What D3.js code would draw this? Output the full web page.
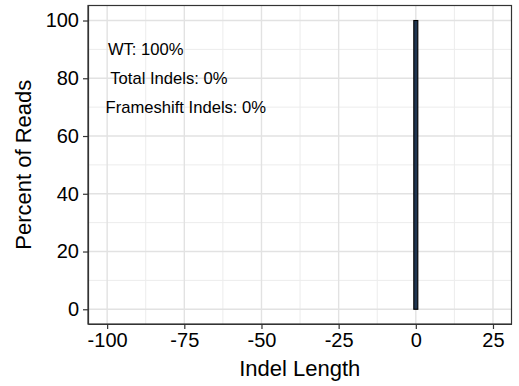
<!DOCTYPE html>
<html>
<head>
<meta charset="utf-8">
<script src="https://cdn.jsdelivr.net/npm/d3@7"></script>
<style>
  html, body { margin: 0; padding: 0; background: #ffffff; }
  svg { display: block; font-family: "Liberation Sans", Arial, Helvetica, sans-serif; }
</style>
</head>
<body>
<svg id="chart" width="519" height="386"></svg>
<script>
// ---- data ----
const indelLengths = [0];
const percentReads = [100];
const xTicks = [-100, -75, -50, -25, 0, 25];
const yTicks = [0, 20, 40, 60, 80, 100];
const xMinor = [-87.5, -62.5, -37.5, -12.5, 12.5];
const yMinor = [10, 30, 50, 70, 90];
const annotationTexts = ["WT: 100%", "Total Indels: 0%", "Frameshift Indels: 0%"];
const annotationX = [-87.5, -80, -74.5];
const annotationY = [90, 80, 70];
const xTitle = "Indel Length";
const yTitle = "Percent of Reads";

// ---- layout ----
const panel = { left: 88, top: 5.5, right: 511.5, bottom: 324 };
const svg = d3.select("#chart");

const x = d3.scaleLinear().domain([-106.2, 31]).range([panel.left, panel.right]);
const y = d3.scaleLinear().domain([-5.1, 105.2]).range([panel.bottom, panel.top]);

const grid = svg.append("g").attr("class", "grid");
// minor grid
grid.selectAll("line.xminor").data(xMinor).enter().append("line")
  .attr("class", "xminor")
  .attr("x1", d => x(d)).attr("x2", d => x(d))
  .attr("y1", panel.top).attr("y2", panel.bottom)
  .style("stroke", "#ececec").style("stroke-width", "1px");
grid.selectAll("line.yminor").data(yMinor).enter().append("line")
  .attr("class", "yminor")
  .attr("y1", d => y(d)).attr("y2", d => y(d))
  .attr("x1", panel.left).attr("x2", panel.right)
  .style("stroke", "#ececec").style("stroke-width", "1px");
// major grid
grid.selectAll("line.xmajor").data(xTicks).enter().append("line")
  .attr("class", "xmajor")
  .attr("x1", d => x(d)).attr("x2", d => x(d))
  .attr("y1", panel.top).attr("y2", panel.bottom)
  .style("stroke", "#e2e2e2").style("stroke-width", "1.4px");
grid.selectAll("line.ymajor").data(yTicks).enter().append("line")
  .attr("class", "ymajor")
  .attr("y1", d => y(d)).attr("y2", d => y(d))
  .attr("x1", panel.left).attr("x2", panel.right)
  .style("stroke", "#e2e2e2").style("stroke-width", "1.4px");

// bars
const halfW = 0.65;
svg.selectAll("rect.bar").data(indelLengths.map((d, i) => ({ x: d, y: percentReads[i] })))
  .enter().append("rect")
  .attr("class", "bar")
  .attr("x", d => x(d.x - halfW))
  .attr("width", d => x(d.x + halfW) - x(d.x - halfW))
  .attr("y", d => y(d.y))
  .attr("height", d => y(0) - y(d.y))
  .attr("fill", "#1f3550")
  .attr("stroke", "#000000")
  .attr("stroke-width", 1.1);

// annotations
svg.selectAll("text.ann").data(annotationTexts).enter().append("text")
  .attr("class", "ann")
  .attr("x", (d, i) => x(annotationX[i]))
  .attr("y", (d, i) => y(annotationY[i]))
  .attr("dy", "0.36em")
  .attr("text-anchor", "middle")
  .attr("font-size", 16.6)
  .attr("fill", "#000000")
  .text(d => d);

// panel border
svg.append("rect")
  .attr("x", panel.left).attr("y", panel.top)
  .attr("width", panel.right - panel.left).attr("height", panel.bottom - panel.top)
  .attr("fill", "none").attr("stroke", "#333333").attr("stroke-width", 1.2);

// axes
const xAxis = svg.append("g")
  .attr("transform", `translate(0,${panel.bottom})`)
  .call(d3.axisBottom(x).tickValues(xTicks).tickSizeInner(5).tickSizeOuter(0).tickPadding(4).tickFormat(d3.format("d")));
const yAxis = svg.append("g")
  .attr("transform", `translate(${panel.left},0)`)
  .call(d3.axisLeft(y).tickValues(yTicks).tickSizeInner(5).tickSizeOuter(0).tickPadding(4).tickFormat(d3.format("d")));
[xAxis, yAxis].forEach(a => {
  a.select(".domain").attr("stroke", "#333333").attr("stroke-width", 1.2);
  a.selectAll(".tick line").attr("stroke", "#333333").attr("stroke-width", 1.2);
  a.selectAll(".tick text").attr("fill", "#000000").attr("font-size", 20)
    .attr("font-family", "'Liberation Sans', Arial, Helvetica, sans-serif");
});
xAxis.selectAll(".tick text").text(d => d < 0 ? "-" + Math.abs(d) : d);

// titles
svg.append("text")
  .attr("x", (panel.left + panel.right) / 2)
  .attr("y", 376)
  .attr("text-anchor", "middle")
  .attr("font-size", 22)
  .attr("fill", "#000000")
  .text(xTitle);
svg.append("text")
  .attr("transform", `translate(31,${(panel.top + panel.bottom) / 2}) rotate(-90)`)
  .attr("text-anchor", "middle")
  .attr("font-size", 22)
  .attr("fill", "#000000")
  .text(yTitle);
</script>
</body>
</html>
